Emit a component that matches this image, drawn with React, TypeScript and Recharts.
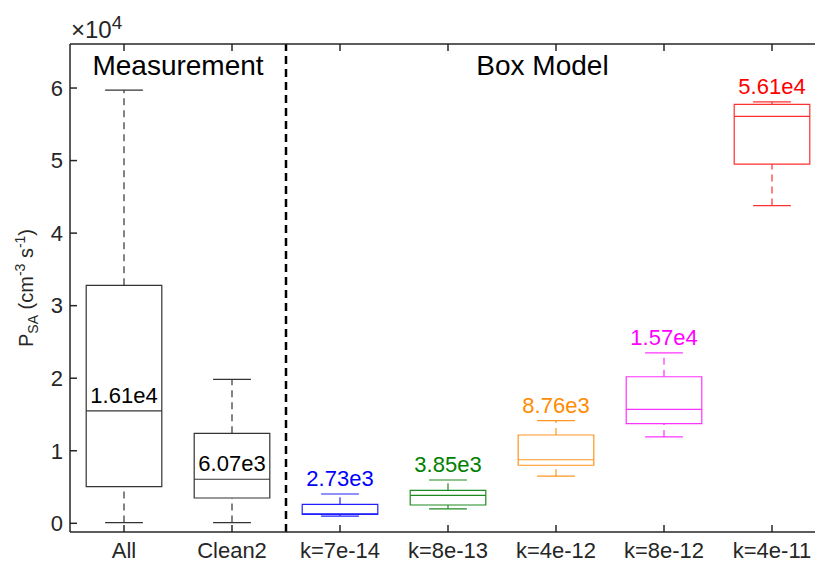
import React from 'react';
import { ComposedChart, XAxis, YAxis, ReferenceArea, ReferenceLine, ReferenceDot } from 'recharts';

// Box statistics per group (P_SA, cm^-3 s^-1)
const categories = ['All', 'Clean2', 'k=7e-14', 'k=8e-13', 'k=4e-12', 'k=8e-12', 'k=4e-11'];
const whiskerLow = [100, 100, 1000, 2000, 6500, 11900, 43800];
const quartile1 = [5050, 3490, 1240, 2520, 8000, 13730, 49500];
const medians = [15500, 6070, 1300, 3850, 8760, 15700, 56100];
const quartile3 = [32800, 12400, 2620, 4550, 12170, 20200, 57750];
const whiskerHigh = [59700, 19850, 4040, 5970, 14140, 23500, 58100];
const valueLabels = ['1.61e4', '6.07e3', '2.73e3', '3.85e3', '8.76e3', '1.57e4', '5.61e4'];
const boxColors = ['#333333', '#333333', '#2020ff', '#1f8a1f', '#ff9520', '#ff33ff', '#ff3030'];
const labelColors = ['#000000', '#000000', '#0000ff', '#008000', '#ff8c00', '#ff00ff', '#ff0000'];
const yTicks = [0, 10000, 20000, 30000, 40000, 50000, 60000];
const xTicks = [1, 2, 3, 4, 5, 6, 7];

const rows = categories.map((name, i) => ({ pos: i + 1, name, median: medians[i] }));

const AXIS = '#262626';
const HALF_BOX = 0.35;
const HALF_CAP = 0.175;

const renderYTitle = (props: any) => {
  const vb = props.viewBox || {};
  const x = vb.x + 33;
  const y = vb.y + vb.height / 2;
  return (
    <text
      x={x}
      y={y}
      transform={`rotate(-90, ${x}, ${y})`}
      textAnchor="middle"
      fill={AXIS}
      fontSize={20}
    >
      <tspan>P</tspan>
      <tspan fontSize={14} dy={5}>SA</tspan>
      <tspan dy={-5}> (cm</tspan>
      <tspan fontSize={14} dy={-8}>-3</tspan>
      <tspan dy={8}> s</tspan>
      <tspan fontSize={14} dy={-8}>-1</tspan>
      <tspan dy={8}>)</tspan>
    </text>
  );
};

const renderExponent = (props: any) => {
  const vb = props.viewBox || {};
  return (
    <text x={vb.x + 1} y={vb.y - 5} fill={AXIS} style={{ fontSize: 24 }}>
      <tspan>×10</tspan>
      <tspan style={{ fontSize: 19 }} dy={-9}>4</tspan>
    </text>
  );
};

function boxElements(i: number) {
  const pos = i + 1;
  const color = boxColors[i];
  const common = { stroke: color, strokeWidth: 1.2, ifOverflow: 'visible' as const };
  const dashed = { ...common, strokeDasharray: '7 5' };
  const label = {
    value: valueLabels[i],
    position: 'top' as const,
    offset: 8,
    fill: labelColors[i],
    fontSize: 22,
  };
  const labelOnMedian = i < 2;
  return [
    <ReferenceLine
      key={`wh-${i}`}
      segment={[{ x: pos, y: quartile3[i] }, { x: pos, y: whiskerHigh[i] }]}
      {...dashed}
    />,
    <ReferenceLine
      key={`wl-${i}`}
      segment={[{ x: pos, y: whiskerLow[i] }, { x: pos, y: quartile1[i] }]}
      {...dashed}
    />,
    <ReferenceArea
      key={`box-${i}`}
      x1={pos - HALF_BOX}
      x2={pos + HALF_BOX}
      y1={quartile1[i]}
      y2={quartile3[i]}
      fill="none"
      fillOpacity={0}
      stroke={color}
      strokeWidth={1.2}
      ifOverflow="visible"
    />,
    <ReferenceLine
      key={`ch-${i}`}
      segment={[{ x: pos - HALF_CAP, y: whiskerHigh[i] }, { x: pos + HALF_CAP, y: whiskerHigh[i] }]}
      {...common}
      label={labelOnMedian ? undefined : label}
    />,
    <ReferenceLine
      key={`cl-${i}`}
      segment={[{ x: pos - HALF_CAP, y: whiskerLow[i] }, { x: pos + HALF_CAP, y: whiskerLow[i] }]}
      {...common}
    />,
    <ReferenceLine
      key={`md-${i}`}
      segment={[{ x: pos - HALF_BOX, y: medians[i] }, { x: pos + HALF_BOX, y: medians[i] }]}
      {...common}
      label={labelOnMedian ? label : undefined}
    />,
  ];
}

export default function App() {
  return (
    <div
      style={{
        position: 'fixed',
        left: 0,
        top: 0,
        width: 815,
        height: 563,
        overflow: 'hidden',
        fontFamily: '"Liberation Sans", Arial, Helvetica, sans-serif',
        background: '#fff',
      }}
    >
      <ComposedChart
        width={840}
        height={563}
        data={rows}
        margin={{ top: 43, right: 14, bottom: 0, left: 0 }}
      >
        <XAxis
          dataKey="pos"
          type="number"
          domain={[0.5, 7.5]}
          ticks={xTicks}
          interval={0}
          allowDataOverflow
          tickFormatter={(v: number) => categories[v - 1] ?? ''}
          height={31}
          tickSize={-7}
          tickMargin={17}
          axisLine={{ stroke: AXIS, strokeWidth: 1.5 }}
          tickLine={{ stroke: AXIS, strokeWidth: 1.5 }}
          tick={{ fill: AXIS, fontSize: 22 }}
        />
        <XAxis
          xAxisId="top"
          orientation="top"
          dataKey="pos"
          type="number"
          domain={[0.5, 7.5]}
          ticks={xTicks}
          interval={0}
          allowDataOverflow
          tickFormatter={() => ''}
          height={1}
          tickSize={-7}
          tickMargin={0}
          axisLine={{ stroke: AXIS, strokeWidth: 1.5 }}
          tickLine={{ stroke: AXIS, strokeWidth: 1.5 }}
          label={{ content: renderExponent }}
        />
        <YAxis
          type="number"
          domain={[-1200, 66070]}
          ticks={yTicks}
          interval={0}
          allowDataOverflow
          tickFormatter={(v: number) => String(v / 10000)}
          width={70}
          tickSize={-7}
          tickMargin={14}
          axisLine={{ stroke: AXIS, strokeWidth: 1.5 }}
          tickLine={{ stroke: AXIS, strokeWidth: 1.5 }}
          tick={{ fill: AXIS, fontSize: 22 }}
          label={{ content: renderYTitle }}
        />

        <ReferenceLine x={2.5} stroke="#000" strokeWidth={2.5} strokeDasharray="8 5" />

        <ReferenceDot
          x={1.5}
          y={61800}
          r={0}
          fill="none"
          stroke="none"
          ifOverflow="visible"
          label={{ value: 'Measurement', position: 'top', offset: 0, fontSize: 28, fill: '#000' }}
        />
        <ReferenceDot
          x={4.875}
          y={61800}
          r={0}
          fill="none"
          stroke="none"
          ifOverflow="visible"
          label={{ value: 'Box Model', position: 'top', offset: 0, fontSize: 28, fill: '#000' }}
        />

        {categories.flatMap((_, i) => boxElements(i))}
      </ComposedChart>
    </div>
  );
}
